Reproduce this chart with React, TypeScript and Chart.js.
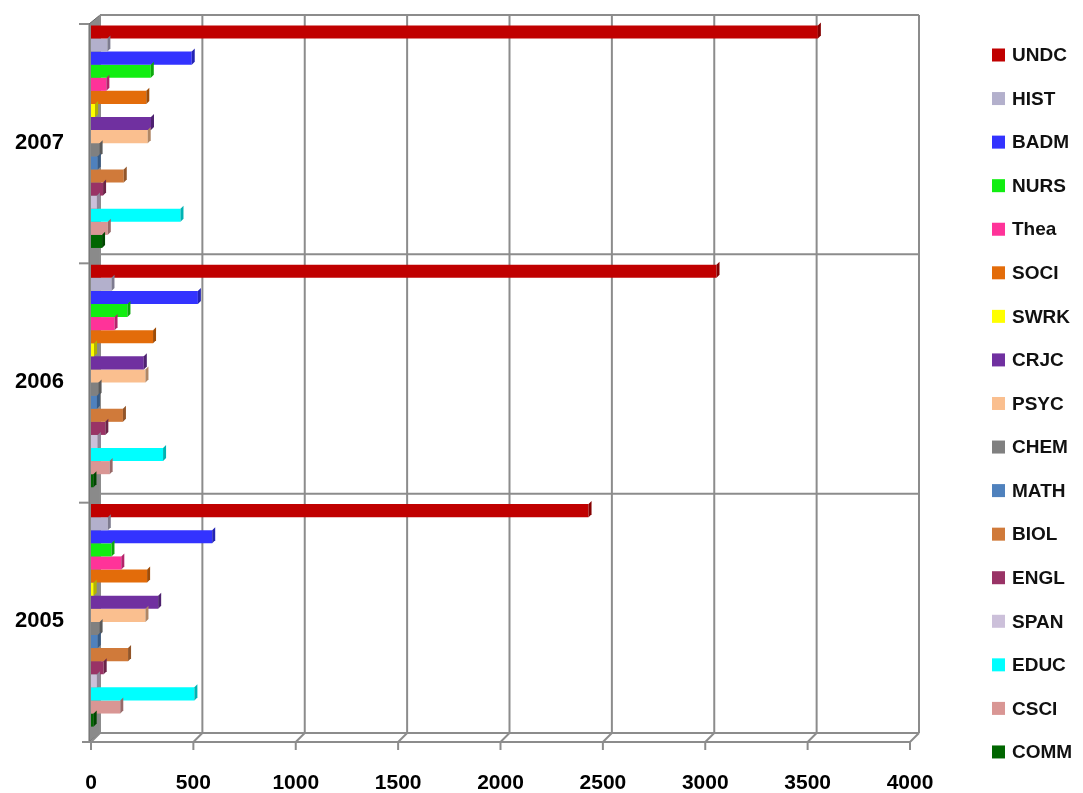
import React, { useEffect, useRef } from "react";
import { Chart, registerables } from "chart.js";

Chart.register(...registerables);

const years = ["2007", "2006", "2005"];
const seriesNames = ["UNDC", "HIST", "BADM", "NURS", "Thea", "SOCI", "SWRK", "CRJC", "PSYC", "CHEM", "MATH", "BIOL", "ENGL", "SPAN", "EDUC", "CSCI", "COMM"];
const seriesColors = ["#C00000", "#B3B0CC", "#3333FF", "#11EE11", "#FF3399", "#E36C0A", "#FFFF00", "#7030A0", "#FABF8F", "#808080", "#4F81BD", "#D07A3A", "#993366", "#CCC0DA", "#00FFFF", "#D99694", "#006600"];
// values per series: [2007, 2006, 2005]
const UNDC = [3550, 3055, 2430];
const HIST = [80, 100, 82];
const BADM = [492, 522, 592];
const NURS = [292, 178, 100];
const Thea = [75, 115, 148];
const SOCI = [270, 303, 274];
const SWRK = [20, 15, 13];
const CRJC = [293, 258, 328];
const PSYC = [277, 266, 266];
const CHEM = [42, 37, 42];
const MATH = [33, 29, 33];
const BIOL = [160, 156, 181];
const ENGL = [59, 70, 62];
const SPAN = [29, 33, 29];
const EDUC = [437, 352, 505];
const CSCI = [82, 91, 143];
const COMM = [54, 12, 13];
const seriesValues = [UNDC, HIST, BADM, NURS, Thea, SOCI, SWRK, CRJC, PSYC, CHEM, MATH, BIOL, ENGL, SPAN, EDUC, CSCI, COMM];
const xTicks = [0, 500, 1000, 1500, 2000, 2500, 3000, 3500, 4000];

const FONT = '"Liberation Sans", Arial, sans-serif';
const GRID = "#8c8c8c";

function shade(hex: string, f: number): string {
  const n = parseInt(hex.slice(1), 16);
  let r = (n >> 16) & 255, g = (n >> 8) & 255, b = n & 255;
  r = Math.round(r * f); g = Math.round(g * f); b = Math.round(b * f);
  return `rgb(${Math.min(255, r)},${Math.min(255, g)},${Math.min(255, b)})`;
}

// 3D-style walls: back wall grid, left wall, floor, tick marks
const wallPlugin = {
  id: "wall",
  beforeDatasetsDraw(chart: any) {
    const { ctx, chartArea, scales } = chart;
    const xs = scales.x;
    const dx = 9, dz = 9;
    const L = chartArea.left;
    const bTop = chartArea.top - 2;
    const bBot = chartArea.bottom - 2;
    const n = years.length;
    const step = (bBot - bTop) / n;
    ctx.save();
    // left wall
    ctx.fillStyle = "#8a8a8a";
    ctx.beginPath();
    ctx.moveTo(L - 2, bTop + dz);
    ctx.lineTo(L + dx, bTop);
    ctx.lineTo(L + dx, bBot);
    ctx.lineTo(L - 2, bBot + dz);
    ctx.closePath();
    ctx.fill();
    ctx.strokeStyle = "#666";
    ctx.lineWidth = 1;
    ctx.stroke();
    ctx.strokeStyle = GRID;
    ctx.lineWidth = 2;
    // back-wall horizontal lines at category boundaries
    for (let i = 0; i <= n; i++) {
      const y = bTop + i * step;
      ctx.beginPath();
      ctx.moveTo(L + dx, y);
      ctx.lineTo(xs.getPixelForValue(4000) + dx, y);
      ctx.stroke();
      if (i < n) {
        ctx.beginPath();
        ctx.moveTo(L - 12, y + dz);
        ctx.lineTo(L - 2, y + dz);
        ctx.stroke();
      }
    }
    // back-wall vertical lines
    xTicks.forEach((v) => {
      const x = xs.getPixelForValue(v) + dx;
      ctx.beginPath();
      ctx.moveTo(x, bTop);
      ctx.lineTo(x, bBot);
      ctx.stroke();
    });
    // floor front line + diagonals + tick marks
    const fy = bBot + dz;
    ctx.beginPath();
    ctx.moveTo(L - 9, fy);
    ctx.lineTo(xs.getPixelForValue(4000), fy);
    ctx.stroke();
    xTicks.forEach((v) => {
      const x = xs.getPixelForValue(v);
      ctx.beginPath();
      ctx.moveTo(x, fy);
      ctx.lineTo(x + dx, bBot);
      ctx.stroke();
      ctx.beginPath();
      ctx.moveTo(x, fy);
      ctx.lineTo(x, fy + 8);
      ctx.stroke();
    });
    ctx.restore();
  },
};

const depthPlugin = {
  id: "depth",
  afterDatasetsDraw(chart: any) {
    const { ctx } = chart;
    const d = 3;
    ctx.save();
    chart.data.datasets.forEach((ds: any, i: number) => {
      const meta = chart.getDatasetMeta(i);
      const col = seriesColors[i];
      meta.data.forEach((bar: any) => {
        const top = bar.y - bar.height / 2;
        const bot = bar.y + bar.height / 2;
        ctx.fillStyle = shade(col, 0.7);
        ctx.beginPath();
        ctx.moveTo(bar.x, top);
        ctx.lineTo(bar.x + d, top - d);
        ctx.lineTo(bar.x + d, bot - d);
        ctx.lineTo(bar.x, bot);
        ctx.closePath();
        ctx.fill();
      });
    });
    ctx.restore();
  },
};

const legendPlugin = {
  id: "customLegend",
  afterDraw(chart: any) {
    const { ctx } = chart;
    ctx.save();
    ctx.font = `bold 19px ${FONT}`;
    ctx.textBaseline = "middle";
    ctx.textAlign = "left";
    const startY = 55;
    const step = 43.56;
    seriesNames.forEach((name, i) => {
      const y = startY + i * step;
      ctx.fillStyle = seriesColors[i];
      ctx.fillRect(992, y - 6.5, 13, 13);
      ctx.fillStyle = "#111";
      ctx.fillText(name, 1012, y + 1);
    });
    ctx.restore();
  },
};

export default function App() {
  const ref = useRef<HTMLCanvasElement>(null);
  useEffect(() => {
    document.body.style.margin = "0";
    const chart = new Chart(ref.current!, {
      type: "bar",
      data: {
        labels: years,
        datasets: seriesNames.map((name, i) => ({
          label: name,
          data: seriesValues[i],
          backgroundColor: seriesColors[i],
          borderWidth: 0,
          categoryPercentage: 0.93,
          barPercentage: 1.0,
        })),
      },
      options: {
        indexAxis: "y",
        animation: false,
        responsive: false,
        layout: { padding: { top: 17, right: 173, bottom: 4, left: 0 } },
        plugins: { legend: { display: false }, tooltip: { enabled: false } },
        scales: {
          x: {
            min: 0,
            max: 4000,
            afterBuildTicks: (s: any) => { s.ticks = xTicks.map((v) => ({ value: v })); },
            grid: { display: false },
            border: { display: false },
            ticks: {
              color: "#000",
              font: { family: FONT, size: 21, weight: "bold" },
              padding: 28,
              callback: (v: any) => String(v),
            },
            afterFit: (s: any) => { s.height = 54; s.paddingLeft = 0; },
          },
          y: {
            grid: { display: false },
            border: { display: false },
            ticks: { color: "#000", font: { family: FONT, size: 22, weight: "bold" }, padding: 19, labelOffset: 6 },
            afterFit: (s: any) => { s.width = 91; s.paddingTop = 0; s.paddingBottom = 0; },
          },
        },
      },
      plugins: [wallPlugin, depthPlugin, legendPlugin],
    });
    return () => chart.destroy();
  }, []);
  return (
    <div style={{ width: 1083, height: 793 }}>
      <canvas ref={ref} width={1083} height={793} style={{ display: "block" }} />
    </div>
  );
}
